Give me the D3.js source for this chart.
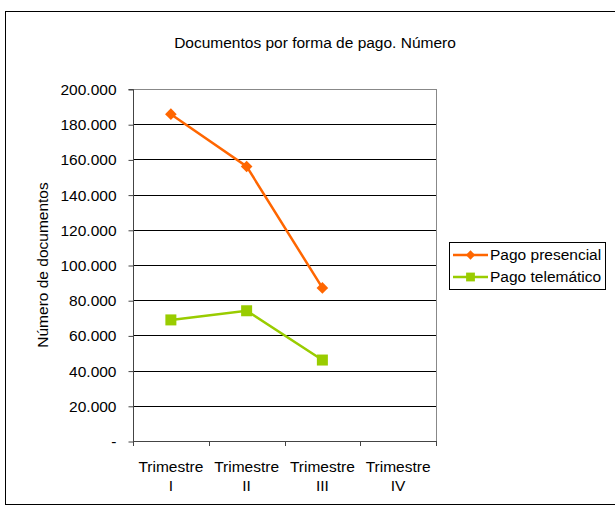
<!DOCTYPE html>
<html>
<head>
<meta charset="utf-8">
<script src="https://cdn.jsdelivr.net/npm/d3@7"></script>
<style>
  html, body { margin: 0; padding: 0; background: #fff; }
  svg { display: block; font-family: "Liberation Sans", Arial, sans-serif; }
</style>
</head>
<body>
<svg id="chart" width="615" height="510"></svg>
<script>
// Quarters and document counts by payment method
const categories = ["Trimestre I", "Trimestre II", "Trimestre III", "Trimestre IV"];
const categoryLines = [["Trimestre", "I"], ["Trimestre", "II"], ["Trimestre", "III"], ["Trimestre", "IV"]];
const presencial = [185700, 156000, 87000, null];
const telematico = [68800, 74000, 46000, null];
const yTicks = [0, 20000, 40000, 60000, 80000, 100000, 120000, 140000, 160000, 180000, 200000];
const seriesNames = ["Pago presencial", "Pago telemático"];
const seriesColors = ["#FF6600", "#99CC00"];

const FS = 15.5;
const svg = d3.select("#chart");
const plot = { left: 133, right: 436, top: 89, bottom: 441 };

// outer frame
svg.append("rect").attr("x", 5.5).attr("y", 11.5).attr("width", 620).attr("height", 493)
  .attr("fill", "#fff").attr("stroke", "#000").attr("stroke-width", 1);

// title
svg.append("text").attr("x", 315).attr("y", 48).attr("text-anchor", "middle")
  .attr("font-size", FS).attr("fill", "#000").text("Documentos por forma de pago. Número");

const x = d3.scaleBand().domain(categories).range([plot.left, plot.right]).padding(0);
const y = d3.scaleLinear().domain([0, 200000]).range([plot.bottom, plot.top]);

const locale = d3.formatLocale({ decimal: ",", thousands: ".", grouping: [3], currency: ["", "€"] });
const fmt = v => v === 0 ? "-" : locale.format(",")(v);

// gridlines
svg.append("g").selectAll("line").data(yTicks.filter(t => t > 0)).join("line")
  .attr("x1", plot.left).attr("x2", plot.right)
  .attr("y1", d => Math.round(y(d)) + 0.5).attr("y2", d => Math.round(y(d)) + 0.5)
  .attr("stroke", d => d === 200000 ? "#888" : "#000").attr("stroke-width", 1);

// plot area right border
svg.append("line").attr("x1", plot.right + 0.5).attr("x2", plot.right + 0.5)
  .attr("y1", plot.top).attr("y2", plot.bottom).attr("stroke", "#888");

// y axis
const yAxis = d3.axisLeft(y).tickValues(yTicks).tickFormat(fmt).tickSize(5).tickPadding(12);
const gy = svg.append("g").attr("transform", `translate(${plot.left + 0.5},0.5)`).call(yAxis);
gy.select(".domain").attr("stroke", "#444").attr("d", `M-5,${plot.top}H0V${plot.bottom}`);
gy.selectAll(".tick line").attr("stroke", "#444");
gy.selectAll(".tick text").attr("font-size", FS).attr("fill", "#000")
  .attr("font-family", "Liberation Sans, Arial, sans-serif");

// x axis: ticks at category boundaries
const bounds = categories.map(c => x(c)).concat([plot.right]);
const gx = svg.append("g");
gx.append("line").attr("x1", plot.left).attr("x2", plot.right)
  .attr("y1", plot.bottom + 0.5).attr("y2", plot.bottom + 0.5).attr("stroke", "#444");
gx.selectAll("line.tk").data(bounds).join("line").attr("class", "tk")
  .attr("x1", d => Math.round(d) + 0.5).attr("x2", d => Math.round(d) + 0.5)
  .attr("y1", plot.bottom).attr("y2", plot.bottom + 5).attr("stroke", "#444");
const xl = gx.selectAll("text").data(categories).join("text")
  .attr("x", d => x(d) + x.bandwidth() / 2).attr("y", plot.bottom + 31)
  .attr("text-anchor", "middle").attr("font-size", FS).attr("fill", "#000");
xl.each(function(d, i) {
  const t = d3.select(this);
  categoryLines[i].forEach((s, j) => {
    t.append("tspan").attr("x", x(d) + x.bandwidth() / 2).attr("dy", j === 0 ? 0 : 19).text(s);
  });
});

// y axis title
svg.append("text").attr("transform", `translate(48,265) rotate(-90)`)
  .attr("text-anchor", "middle").attr("font-size", FS).attr("fill", "#000")
  .text("Número de documentos");

// series
const series = [presencial, telematico];
const cx = c => x(c) + x.bandwidth() / 2;
const line = d3.line().defined(d => d.v != null).x(d => cx(d.c)).y(d => y(d.v));

series.forEach((vals, si) => {
  const pts = categories.map((c, i) => ({ c, v: vals[i] }));
  svg.append("path").datum(pts).attr("d", line).attr("fill", "none")
    .attr("stroke", seriesColors[si]).attr("stroke-width", 2.5);
  const g = svg.append("g");
  pts.filter(p => p.v != null).forEach(p => drawMarker(g, si, cx(p.c), y(p.v), 1));
});

function drawMarker(g, si, px, py, scale) {
  if (si === 0) {
    const r = 5.8 * scale;
    g.append("path").attr("d", `M${px},${py - r}L${px + r},${py}L${px},${py + r}L${px - r},${py}Z`)
      .attr("fill", seriesColors[0]);
  } else {
    const s = 11 * scale;
    g.append("rect").attr("x", px - s / 2).attr("y", py - s / 2).attr("width", s).attr("height", s)
      .attr("fill", seriesColors[1]);
  }
}

// legend
const lg = svg.append("g");
lg.append("rect").attr("x", 449.5).attr("y", 242.5).attr("width", 156).attr("height", 47)
  .attr("fill", "#fff").attr("stroke", "#000");
seriesNames.forEach((name, i) => {
  const ly = 255 + i * 22;
  lg.append("line").attr("x1", 453).attr("x2", 488).attr("y1", ly).attr("y2", ly)
    .attr("stroke", seriesColors[i]).attr("stroke-width", 2.5);
  drawMarker(lg, i, 470.5, ly, 0.8);
  lg.append("text").attr("x", 490).attr("y", ly + 5).attr("font-size", FS).attr("fill", "#000").text(name);
});
</script>
</body>
</html>
